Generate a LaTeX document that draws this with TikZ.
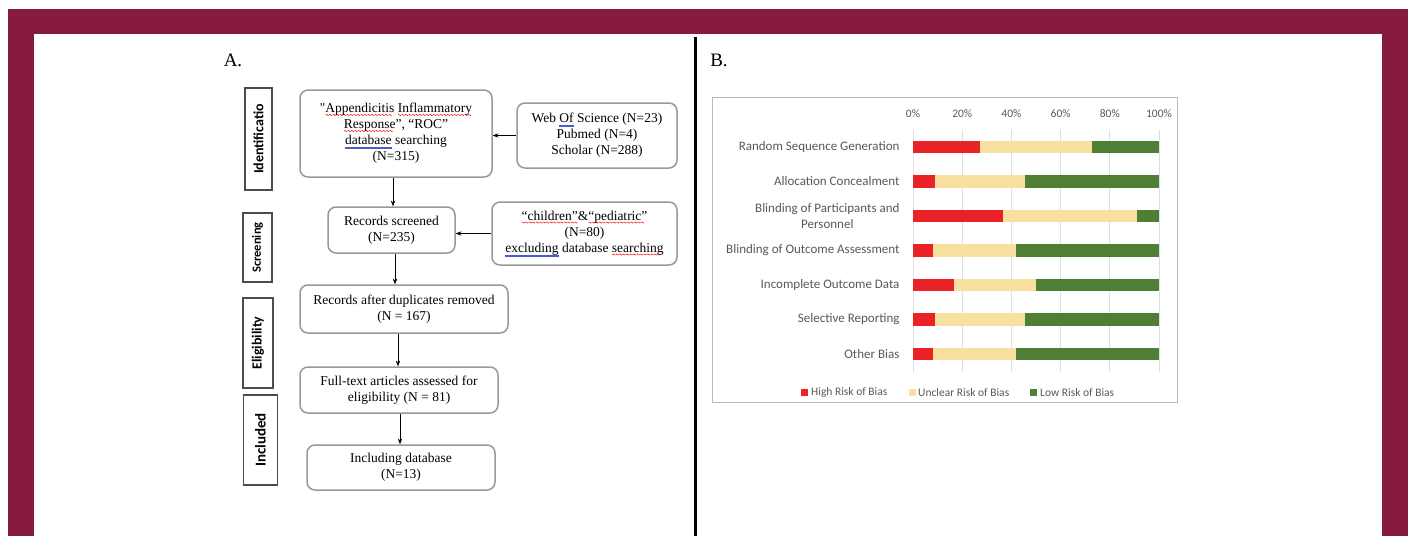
\documentclass[tikz,border=0pt]{standalone}
\usepackage{fontspec}
\setmainfont{Liberation Serif}
\newfontfamily\calibri{Carlito}
\usetikzlibrary{positioning,arrows.meta}
\definecolor{maroon}{HTML}{861A41}
\definecolor{boxgray}{HTML}{999999}
\definecolor{highrisk}{HTML}{EA2127}
\definecolor{unclear}{HTML}{F8E0A0}
\definecolor{lowrisk}{HTML}{4F7F35}
\definecolor{axisgray}{HTML}{595959}
\definecolor{gramblue}{HTML}{4A5BD0}
\newsavebox\wavebox
\newsavebox\wordbox
\newcommand{\redsq}[1]{\sbox\wordbox{#1}\rlap{\raisebox{-3pt}[0pt][0pt]{\hbox to \wd\wordbox{\leaders\copy\wavebox\hfill}}}\usebox\wordbox}
\newcommand{\bluesq}[1]{\sbox\wordbox{#1}\rlap{\textcolor{gramblue}{\rule[-2.6pt]{\wd\wordbox}{0.3pt}\kern-\wd\wordbox\rule[-3.6pt]{\wd\wordbox}{0.3pt}}}\usebox\wordbox}

\begin{document}
\sbox\wavebox{\begin{pgfpicture}
  \pgfsetstrokecolor{red}\pgfsetlinewidth{0.5pt}
  \pgfpathmoveto{\pgfpoint{0pt}{0pt}}
  \pgfpathsine{\pgfpoint{0.75pt}{0.6pt}}\pgfpathcosine{\pgfpoint{0.75pt}{-0.6pt}}
  \pgfpathsine{\pgfpoint{0.75pt}{-0.6pt}}\pgfpathcosine{\pgfpoint{0.75pt}{0.6pt}}
  \pgfusepath{stroke}
\end{pgfpicture}}
\begin{tikzpicture}[x=1pt,y=-1pt,>={Stealth[length=2mm]},
  flow/.style={draw=boxgray,line width=1.5pt,rounded corners=8pt,align=center,
    inner sep=2pt,font=\fontsize{13.5}{16}\selectfont},
  stage/.style={draw=black!70,line width=1.2pt,rotate=90,inner sep=1pt,
    font=\calibri\bfseries\fontsize{#1}{#1}\selectfont},
  label/.style={font=\calibri\fontsize{13}{16}\selectfont,text=axisgray,align=center,anchor=east},
  tick/.style={font=\calibri\fontsize{11.5}{12}\selectfont,text=axisgray},
  legend/.style={font=\calibri\fontsize{11.5}{12}\selectfont,text=axisgray,anchor=west,inner sep=0pt}]
\useasboundingbox (0,0) rectangle (1412,536);
\fill[maroon] (8,9) rectangle (1408,536);
\fill[white] (34,34) rectangle (1382,536);
\draw[line width=3pt] (695.5,37) -- (695.5,536);
\node[font=\fontsize{19}{19}\selectfont] (pa) at (233,60) {A.};
\node[font=\fontsize{19}{19}\selectfont] (pb) at (719,60) {B.};

% stages
\node[stage=14,minimum width=102pt,minimum height=27pt] (ident) at (258.5,139) {Identificatio};
\node[stage=12.5,minimum width=69pt,minimum height=29pt] (scr) at (257.5,247.5) {Screening};
\node[stage=14,minimum width=90pt,minimum height=30pt] (elig) at (258,343) {Eligibility};
\node[stage=15,minimum width=90pt,minimum height=34pt] (incl) at (260.5,440) {Included};

% flow boxes
\node[flow,minimum width=192pt,minimum height=87pt] (search) at (396,133.5)
  {\textquotedbl\redsq{Appendicitis} \redsq{Inflammatory}\\\redsq{Response}'', ``ROC''\\\bluesq{database} searching\\(N=315)};
\node[flow,minimum width=160pt,minimum height=65pt] (web) at (597,135.5)
  {Web \bluesq{Of} Science (N=23)\\Pubmed (N=4)\\Scholar (N=288)};
\node[flow,minimum width=127pt,minimum height=46pt] (screened) at (391.5,230)
  {Records screened\\(N=235)};
\node[flow,minimum width=185pt,minimum height=63pt] (kw) at (584.5,233.5)
  {\redsq{``children''}\&\redsq{``pediatric''}\\(N=80)\\\bluesq{excluding} database \redsq{searching}};
\node[flow,minimum width=208pt,minimum height=48pt] (dedup) at (404,309)
  {Records after duplicates removed\\(N = 167)};
\node[flow,minimum width=198pt,minimum height=46pt] (full) at (399,390)
  {Full-text articles assessed for\\eligibility (N = 81)};
\node[flow,minimum width=188pt,minimum height=45pt] (incdb) at (401,467.5)
  {Including database\\(N=13)};

\draw[->] (web.west) -- (web.west -| search.east);
\draw[->] (kw.west) -- (kw.west -| screened.east);
\draw[->] (393,0 |- search.south) -- (393,0 |- screened.north);
\draw[->] (395,0 |- screened.south) -- (395,0 |- dedup.north);
\draw[->] (398,0 |- dedup.south) -- (398,0 |- full.north);
\draw[->] (400,0 |- full.south) -- (400,0 |- incdb.north);

% risk of bias chart
\draw[gray!55,line width=0.8pt] (712,97) rectangle (1177,402);
\foreach \p in {0,20,...,100}{
  \draw[gray!25,line width=0.8pt] (913+2.46*\p,130) -- (913+2.46*\p,372);
  \node[tick] (t\p) at (913+2.46*\p,114) {\p\%};
}
\foreach \lbl/\hi/\un [count=\i from 0] in {Random Sequence Generation/27.3/72.7,
    Allocation Concealment/9.1/45.5,{Blinding of Participants and\\Personnel}/36.4/90.9,
    Blinding of Outcome Assessment/8.3/41.7,Incomplete Outcome Data/16.7/50,
    Selective Reporting/9.1/45.5,Other Bias/8.3/41.7}{
  \pgfmathsetmacro\yy{147+34.5*\i}
  \fill[highrisk] (913,\yy-6.3) rectangle (913+2.46*\hi,\yy+6.3);
  \fill[unclear] (913+2.46*\hi,\yy-6.3) rectangle (913+2.46*\un,\yy+6.3);
  \fill[lowrisk] (913+2.46*\un,\yy-6.3) rectangle (1159,\yy+6.3);
  \node[label] (r\i) at (903,\yy) {\lbl};
}
\fill[highrisk] (801,389) rectangle (808,396);
\node[legend] (lh) at (811,392.5) {High Risk of Bias};
\fill[unclear] (909,389) rectangle (916,396);
\node[legend] (lu) at (918,392.5) {Unclear Risk of Bias};
\fill[lowrisk] (1030,389) rectangle (1037,396);
\node[legend] (ll) at (1040,392.5) {Low Risk of Bias};
\end{tikzpicture}
\end{document}
